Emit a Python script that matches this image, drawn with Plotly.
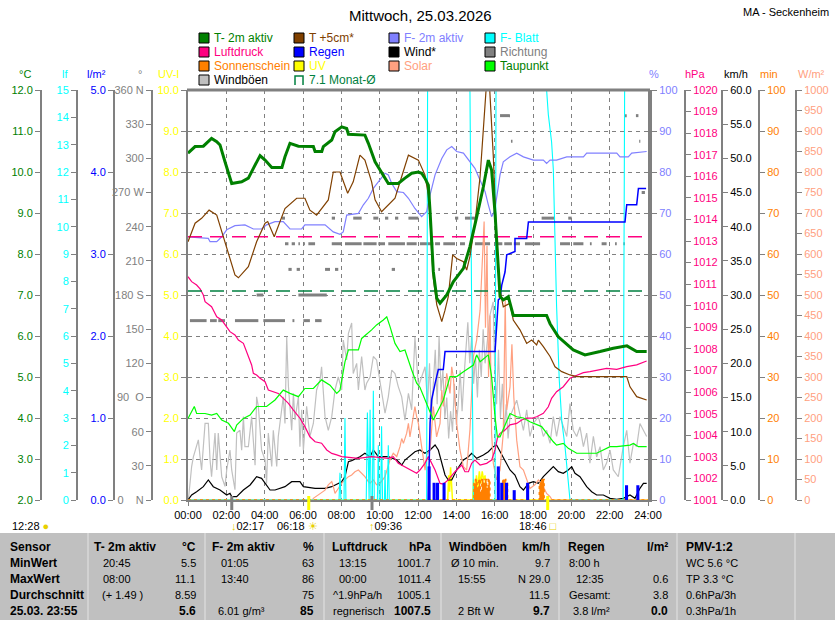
import plotly.graph_objects as go

W, H = 835, 620
FONT = "Liberation Sans, Arial, sans-serif"
GRAY = "#808080"

# plot frame, picture pixels
PL, PR, PT, PB = 188, 648, 90, 500


def fx(px):
    return px / W


def fy(py):
    return 1 - py / H


# colours of the sensors
C_T2 = "#008000"
C_T5 = "#804000"
C_F2 = "#8080FF"
C_LEAF = "#00FFFF"
C_P = "#FF0080"
C_RAIN = "#0000FF"
C_WIND = "#000000"
C_DIR = "#808080"
C_SUN = "#FF8000"
C_UV = "#FFFF00"
C_SOL = "#FFA080"
C_DEW = "#00FF00"
C_GUST = "#C0C0C0"
C_AVG = "#008040"

# ---- series: (hour of day, value) ----
temp_2m = [(0, 10.46), (0.37, 10.62), (0.8, 10.63), (1.23, 10.82), (1.5, 10.74), (1.67, 10.66), (1.93, 10.25),
           (2.28, 9.72), (2.8, 9.76), (3.15, 9.85), (3.41, 10.09), (3.76, 10.4), (4.02, 10.29), (4.37, 10.11),
           (4.9, 10.11), (5.06, 10.37), (5.32, 10.7), (5.76, 10.63), (6.54, 10.62), (6.63, 10.5), (6.98, 10.5),
           (7.06, 10.62), (7.5, 10.78), (7.67, 10.98), (8.02, 11.1), (8.28, 11.06), (8.37, 10.92), (9.23, 10.9),
           (9.41, 10.7), (9.76, 10.25), (10.45, 9.72), (10.97, 9.72), (11.32, 9.85), (11.67, 9.97), (12.02, 10.0),
           (12.19, 9.97), (12.36, 9.85), (12.54, 9.68), (12.63, 9.03), (12.71, 8.46), (12.8, 7.57), (12.98, 6.92),
           (13.15, 6.8), (13.5, 7.0), (13.84, 7.32), (14.37, 7.65), (14.71, 8.18), (15.06, 8.9), (15.41, 9.64),
           (15.67, 10.29), (15.84, 10.05), (16.02, 8.99), (16.19, 7.77), (16.28, 6.96), (16.45, 6.88),
           (16.71, 6.96), (16.97, 6.5), (18.71, 6.5), (18.89, 6.3), (19.32, 5.98), (20.1, 5.66), (20.71, 5.54),
           (21.5, 5.62), (22.19, 5.7), (22.9, 5.76), (23.41, 5.62), (23.93, 5.62)]

temp_5cm = [(0, 8.3), (0.37, 8.75), (0.71, 8.87), (1.1, 9.07), (1.5, 8.95), (1.76, 8.54), (2.02, 8.14), (2.45, 7.49),
            (2.63, 7.42), (3.15, 7.69), (3.58, 8.3), (4.02, 8.75), (4.16, 8.79), (4.5, 8.42), (5.06, 9.11),
            (5.67, 9.36), (6.1, 9.36), (6.36, 9.07), (6.71, 8.95), (7.32, 9.32), (7.58, 10.0), (7.93, 10.0),
            (8.33, 9.48), (8.62, 9.76), (8.97, 10.41), (9.23, 10.29), (9.58, 9.76), (9.76, 9.32), (10.1, 9.03),
            (10.8, 9.36), (11.15, 9.89), (11.5, 10.41), (12.02, 10.29), (12.36, 9.93), (12.54, 9.44), (12.63, 8.87),
            (12.71, 8.06), (12.8, 7.41), (12.98, 6.76), (13.24, 6.35), (13.41, 6.63), (13.58, 6.96), (13.81, 7.98),
            (14.02, 7.89), (14.37, 7.81), (14.54, 7.61), (14.71, 7.94), (14.97, 8.75), (15.24, 9.89), (15.41, 11.19),
            (15.58, 12.2), (15.72, 12.2), (15.84, 11.07), (15.93, 10.37), (16.1, 8.34), (16.28, 7.12), (16.45, 6.71),
            (16.8, 6.8), (16.97, 6.39), (17.32, 6.15), (17.67, 5.82), (17.93, 5.9), (18.19, 5.78), (18.28, 5.9),
            (18.54, 5.74), (18.89, 5.5), (19.15, 5.25), (19.5, 5.13), (19.93, 5.05), (20.28, 5.01), (22.89, 5.01),
            (23.06, 4.76), (23.41, 4.52), (23.93, 4.44)]

humidity = [(0, 64.2), (0.37, 64.0), (1.06, 63.8), (1.15, 63.0), (1.5, 63.0), (1.76, 64.2), (2.02, 65.9), (2.45, 66.9),
            (2.97, 67.1), (3.41, 66.1), (3.84, 66.1), (4.1, 67.1), (4.54, 67.9), (4.97, 67.9), (5.32, 66.1),
            (5.93, 66.1), (6.1, 67.1), (7.15, 67.1), (7.58, 65.4), (7.93, 64.8), (8.1, 65.4), (8.28, 69.5),
            (8.89, 69.9), (9.15, 72.0), (9.41, 73.6), (9.67, 76.0), (9.93, 77.6), (10.28, 79.7), (10.45, 79.3),
            (10.63, 77.2), (10.89, 75.2), (11.24, 75.0), (11.5, 73.6), (11.84, 71.1), (12.19, 69.1), (12.45, 70.3),
            (12.63, 74.4), (12.89, 79.3), (13.24, 83.3), (13.5, 85.4), (13.76, 86.2), (14.02, 85.0), (14.37, 84.6),
            (14.71, 82.5), (14.97, 80.9), (15.24, 78.0), (15.5, 75.2), (15.67, 72.0), (15.84, 69.1), (15.97, 70.3),
            (16.1, 73.6), (16.28, 79.3), (16.45, 82.5), (16.8, 83.7), (17.15, 84.6), (17.5, 83.7), (18.02, 82.9),
            (18.54, 82.9), (18.71, 82.1), (18.89, 82.9), (19.23, 82.9), (19.76, 83.7), (20.63, 83.7), (20.8, 84.6),
            (22.37, 84.6), (22.54, 83.7), (22.97, 83.7), (23.15, 84.6), (23.93, 85.0)]

leaf_wet = [(0, 0), (7.88, 0), (7.93, 1.0), (7.98, 0), (8.14, 0), (8.19, 3.0), (8.24, 0), (9.3, 0), (9.36, 3.2),
            (9.42, 0), (9.45, 0), (9.5, 3.3), (9.55, 0), (9.62, 0), (9.67, 4.0), (9.72, 0), (9.88, 0), (9.93, 2.0),
            (9.98, 0), (10.05, 0), (10.1, 2.7), (10.15, 0), (10.25, 0), (10.28, 1.1), (10.31, 0), (10.4, 0),
            (10.45, 2.0), (10.5, 0), (12.45, 0), (12.5, 15), (14.71, 15), (14.8, 7.0), (14.89, 0), (16.02, 0),
            (16.07, 15), (18.71, 15), (18.8, 14.1), (18.97, 13.1), (19.06, 12.1), (19.23, 7.1), (19.37, 4.4),
            (19.5, 2.9), (19.67, 1.95), (19.93, 0), (22.7, 0), (22.78, 15), (24, 15)]

pressure = [(0, 1011.35), (0.19, 1011.12), (0.45, 1010.96), (0.63, 1010.78), (0.8, 1010.5), (0.89, 1010.19),
            (1.23, 1009.96), (1.5, 1009.49), (1.76, 1009.34), (2.02, 1009.03), (2.19, 1008.8), (2.45, 1008.65),
            (2.63, 1008.41), (2.89, 1008.26), (3.06, 1007.87), (3.32, 1007.26), (3.41, 1006.87), (3.58, 1006.79),
            (3.76, 1006.64), (4.02, 1006.48), (4.19, 1006.1), (4.45, 1006.02), (4.71, 1005.94), (4.97, 1005.71),
            (5.24, 1005.48), (5.5, 1005.17), (5.84, 1004.79), (6.1, 1004.4), (6.36, 1003.93), (6.63, 1003.7),
            (6.97, 1003.63), (7.24, 1003.32), (7.5, 1003.16), (7.76, 1003.09), (8.02, 1003.01), (8.89, 1002.93),
            (9.58, 1003.01), (10.45, 1002.93), (10.71, 1003.01), (10.97, 1002.7), (11.32, 1002.54), (11.67, 1002.39),
            (11.93, 1002.24), (12.1, 1002.39), (12.36, 1002.7), (12.54, 1003.01), (12.71, 1002.7), (12.89, 1002.39),
            (13.15, 1001.77), (13.32, 1001.74), (13.58, 1001.93), (13.93, 1002.31), (14.28, 1002.62),
            (14.45, 1002.31), (14.63, 1002.31), (14.8, 1002.7), (14.97, 1002.85), (15.24, 1002.62), (15.58, 1002.7),
            (15.84, 1002.85), (16.02, 1003.32), (16.14, 1003.86), (16.28, 1004.09), (16.54, 1004.24),
            (16.8, 1004.48), (17.15, 1004.55), (17.41, 1004.71), (17.67, 1004.79), (17.93, 1004.79),
            (18.19, 1004.86), (18.54, 1005.02), (18.8, 1005.32), (18.97, 1005.71), (19.23, 1006.02),
            (19.58, 1006.25), (19.93, 1006.64), (20.1, 1006.71), (20.63, 1006.9), (20.97, 1006.95), (21.32, 1007.02),
            (21.84, 1007.1), (22.37, 1007.05), (22.89, 1007.18), (23.41, 1007.26), (23.93, 1007.44)]

rain_sum = [(12.5, 0), (12.54, 0), (12.63, 0.94), (12.71, 1.22), (12.89, 1.42), (13.06, 1.59), (13.32, 1.59),
            (13.41, 1.81), (16.02, 1.81), (16.1, 2.07), (16.19, 2.44), (16.28, 2.46), (16.37, 2.62), (16.54, 2.78),
            (16.63, 2.99), (17.06, 3.03), (17.06, 3.19), (17.67, 3.19), (17.76, 3.39), (22.8, 3.39), (22.89, 3.6),
            (23.41, 3.6), (23.5, 3.8), (23.9, 3.8)]

rain_t = [12.58, 12.84, 13.02, 13.36, 16.19, 16.37, 16.62, 17.02, 17.72, 22.88, 23.47]
rain_v = [0.41, 0.21, 0.21, 0.21, 0.41, 0.21, 0.21, 0.12, 0.21, 0.18, 0.18]

wind = [(0, 0), (0.19, 0.73), (0.45, 1.22), (0.8, 1.95), (1.06, 2.93), (1.32, 1.95), (1.67, 1.46), (2.02, 0.73),
        (2.19, 0.98), (2.28, 0.49), (2.54, 0.49), (2.89, 1.46), (3.24, 2.2), (3.58, 3.41), (3.84, 3.17), (4.28, 1.46),
        (4.54, 1.46), (5.06, 1.95), (5.41, 2.68), (5.84, 2.68), (6.02, 1.95), (6.63, 1.71), (7.15, 1.71), (7.5, 1.95),
        (8.02, 2.68), (8.19, 3.41), (8.37, 5.61), (8.54, 5.76), (8.97, 6.34), (9.23, 6.83), (9.5, 6.34),
        (9.67, 7.32), (9.93, 6.34), (10.45, 6.34), (10.89, 5.85), (11.15, 5.12), (11.32, 5.85), (11.84, 7.07),
        (12.1, 7.32), (12.36, 6.83), (12.63, 7.32), (12.89, 8.05), (13.06, 7.32), (13.24, 5.37), (13.41, 3.66),
        (13.58, 2.93), (13.76, 2.93), (14.02, 4.39), (14.37, 5.85), (14.63, 6.34), (14.8, 6.83), (15.06, 6.1),
        (15.41, 6.58), (15.67, 7.07), (15.93, 7.8), (16.1, 8.05), (16.28, 7.07), (16.45, 6.34), (16.63, 5.37),
        (16.8, 4.39), (17.06, 3.66), (17.32, 1.95), (17.5, 1.46), (17.76, 2.44), (18.02, 2.68), (18.28, 2.44),
        (18.54, 3.41), (18.8, 4.15), (19.06, 4.88), (19.32, 4.15), (19.58, 3.9), (19.84, 4.39), (20.02, 4.88),
        (20.19, 3.9), (20.45, 3.41), (20.8, 1.95), (21.06, 1.22), (21.32, 0.73), (21.67, 0.73), (22.02, 0.24),
        (22.37, 0.1), (22.71, 0.24), (23.06, 0.73), (23.32, 0.24), (23.58, 1.71), (23.76, 2.44), (23.93, 2.44)]

gusts = [(0.02, 0), (0.19, 4.9), (0.28, 6.3), (0.45, 7.8), (0.54, 8.8), (0.63, 6.3), (0.71, 4.4), (0.89, 11.2),
         (1.06, 11.2), (1.15, 5.9), (1.23, 3.4), (1.41, 9.8), (1.5, 4.4), (1.58, 9.8), (1.76, 3.4), (1.93, 2.0),
         (2.02, 4.4), (2.19, 7.3), (2.28, 4.4), (2.45, 1.5), (2.54, 9.8), (2.71, 10.2), (2.8, 7.3), (2.89, 12.2),
         (2.97, 7.8), (3.15, 7.8), (3.24, 9.8), (3.32, 12.2), (3.5, 5.1), (3.58, 15.1), (3.67, 13.7), (3.84, 7.3),
         (4.02, 5.9), (4.1, 2.4), (4.19, 9.8), (4.37, 4.9), (4.45, 10.2), (4.63, 4.9), (4.71, 9.3), (4.8, 11.2),
         (4.97, 15.1), (5.06, 11.2), (5.15, 23.9), (5.24, 16.6), (5.41, 10.2), (5.5, 15.6), (5.58, 11.7),
         (5.76, 15.1), (5.84, 7.8), (5.93, 13.2), (6.02, 7.3), (6.19, 13.7), (6.36, 9.3), (6.54, 11.2), (6.71, 16.1),
         (6.89, 17.6), (6.97, 19.5), (7.15, 12.2), (7.32, 10.2), (7.5, 12.2), (7.67, 16.1), (7.84, 18.0),
         (8.02, 16.1), (8.1, 23.4), (8.28, 20.5), (8.37, 24.4), (8.54, 25.9), (8.62, 18.5), (8.8, 20.0),
         (8.89, 16.1), (9.06, 21.0), (9.23, 16.1), (9.32, 17.1), (9.5, 18.0), (9.67, 21.0), (9.84, 20.5),
         (10.1, 15.6), (10.28, 12.7), (10.45, 15.1), (10.63, 19.0), (10.8, 18.5), (10.97, 16.6), (11.15, 15.1),
         (11.32, 11.7), (11.5, 15.6), (11.67, 13.2), (11.84, 23.9), (12.02, 16.6), (12.19, 18.0), (12.37, 19.5),
         (12.5, 14), (12.6, 20), (12.7, 12), (12.8, 17), (12.9, 22), (13.0, 14), (13.1, 24), (13.2, 16), (13.3, 19),
         (13.4, 12), (13.5, 15), (13.6, 9), (13.7, 13), (13.8, 10), (13.9, 17), (14.0, 11), (14.1, 14), (14.2, 19),
         (14.3, 13), (14.4, 18), (14.5, 22), (14.6, 26), (14.7, 20), (14.8, 24), (14.9, 17), (15.0, 21),
         (15.1, 15), (15.2, 22), (15.3, 18), (15.4, 25), (15.5, 20), (15.6, 23), (15.75, 27), (15.92, 29),
         (16.0, 20), (16.1, 14), (16.2, 22), (16.3, 12), (16.4, 17), (16.5, 10), (16.6, 14), (16.7, 9),
         (16.8, 12.2), (17.15, 14.6), (17.5, 10.2), (17.67, 13.2), (17.84, 9.3), (18.02, 11.2), (18.28, 12.2),
         (18.54, 9.3), (18.71, 10.2), (18.89, 8.3), (19.06, 12.2), (19.23, 9.3), (19.41, 12.2), (19.76, 9.3),
         (19.93, 14.1), (20.1, 10.2), (20.28, 9.3), (20.45, 10.7), (20.63, 7.8), (20.8, 9.8), (20.97, 5.4),
         (21.15, 9.3), (21.32, 6.3), (21.5, 7.8), (21.67, 4.4), (21.84, 5.4), (22.02, 7.3), (22.19, 4.4),
         (22.45, 3.4), (22.71, 7.8), (22.89, 10.2), (23.06, 5.4), (23.24, 8.3), (23.41, 7.8), (23.58, 11.2),
         (23.76, 10.2), (23.93, 9.3)]

dew_point = [(0, 3.99), (0.33, 4.28), (0.45, 4.11), (0.89, 4.11), (1.23, 4.07), (1.5, 4.11), (1.76, 3.95),
             (2.11, 3.87), (2.42, 3.67), (2.54, 3.83), (2.89, 3.99), (3.24, 4.07), (3.58, 4.28), (4.1, 4.28),
             (4.54, 4.44), (4.97, 4.68), (5.32, 4.6), (5.76, 4.52), (6.1, 4.72), (6.54, 4.72), (6.97, 4.93),
             (7.41, 4.8), (7.76, 4.6), (7.93, 4.68), (8.19, 5.37), (8.37, 5.66), (8.89, 5.66), (9.06, 5.94),
             (9.58, 6.15), (9.84, 6.27), (10.19, 6.39), (10.37, 6.47), (10.54, 6.23), (10.8, 5.82), (11.06, 5.62),
             (11.32, 5.66), (11.67, 5.17), (11.93, 4.85), (12.1, 4.75), (12.45, 4.36), (12.8, 3.95), (12.97, 4.11),
             (13.32, 4.44), (13.67, 5.01), (14.02, 5.01), (14.37, 5.13), (14.89, 5.29), (15.06, 5.54), (15.24, 5.37),
             (15.67, 5.54), (15.84, 5.01), (16.02, 4.03), (16.14, 3.54), (16.28, 3.54), (16.63, 3.95), (16.8, 4.11),
             (17.15, 4.03), (17.5, 4.0), (17.84, 3.91), (18.45, 3.79), (19.06, 3.42), (19.23, 3.34), (19.58, 3.38),
             (19.84, 3.26), (20.28, 3.14), (21.32, 3.14), (22.02, 3.3), (22.37, 3.3), (23.06, 3.34), (23.24, 3.38),
             (23.5, 3.3), (23.93, 3.3)]

solar = [(0, 0), (6.5, 0), (6.54, 4), (6.8, 12), (7.15, 24), (7.32, 37), (7.5, 45), (7.58, 33), (7.67, 16),
         (7.84, 28), (8.02, 41), (8.19, 49), (8.37, 57), (8.54, 61), (8.71, 69), (8.89, 73), (9.06, 65), (9.23, 57),
         (9.41, 45), (9.5, 41), (9.67, 49), (9.84, 37), (10.02, 41), (10.28, 57), (10.54, 98), (10.71, 114),
         (10.89, 106), (11.06, 130), (11.15, 150), (11.24, 138), (11.41, 163), (11.5, 187), (11.58, 154),
         (11.67, 179), (11.76, 195), (11.84, 228), (11.93, 203), (12.02, 187), (12.19, 130), (12.28, 98),
         (12.37, 73), (12.45, 110), (12.63, 122), (12.8, 228), (12.97, 154), (13.15, 187), (13.24, 268),
         (13.32, 228), (13.5, 309), (13.67, 260), (13.76, 325), (13.84, 301), (14.02, 187), (14.19, 122),
         (14.37, 81), (14.54, 73), (14.71, 171), (14.89, 350), (15.06, 390), (15.24, 463), (15.35, 560),
         (15.45, 679), (15.52, 420), (15.6, 620), (15.68, 300), (15.76, 450), (15.84, 163), (15.93, 89),
         (16.1, 49), (16.28, 73), (16.45, 163), (16.55, 490), (16.63, 220), (16.8, 276), (16.9, 380), (17.0, 250),
         (17.15, 146), (17.32, 81), (17.5, 73), (17.67, 49), (17.84, 28), (18.1, 37), (18.28, 49), (18.54, 33),
         (18.71, 16), (18.89, 8), (19.0, 0), (24, 0)]

# sunshine minutes per 5 min, step values
sunshine = [(0, 0), (14.83, 0), (14.92, 4), (15.0, 5), (15.08, 3), (15.17, 5), (15.25, 2), (15.33, 5), (15.42, 4),
            (15.5, 5), (15.58, 3), (15.67, 5), (15.75, 0), (16.42, 5), (16.5, 5), (16.58, 4), (16.67, 0),
            (18.33, 4), (18.42, 5), (18.5, 5), (18.58, 0), (24, 0)]

uv_index = [(0, 0), (13.55, 0), (13.6, 0.6), (13.65, 0.2), (13.7, 0.8), (13.75, 0.4), (13.8, 0), (14.85, 0),
            (14.9, 0.5), (14.97, 0.2), (15.05, 0.6), (15.12, 0.3), (15.2, 0.7), (15.28, 0.4), (15.35, 0.7),
            (15.42, 0.5), (15.5, 0.6), (15.55, 0), (24, 0)]

# wind direction: (from hour, to hour, degrees)
direction = [(0.1, 0.97, 157.5), (1.15, 1.5, 157.5), (1.58, 1.93, 157.5), (2.45, 3.67, 157.5), (3.93, 5.06, 157.5),
             (5.45, 5.55, 157.5), (6.02, 6.36, 157.5), (6.63, 6.97, 157.5),
             (3.58, 3.93, 180), (5.76, 7.24, 180),
             (5.24, 5.41, 202.5), (5.67, 5.84, 202.5), (7.15, 7.41, 202.5), (7.67, 7.84, 202.5),
             (10.63, 10.8, 202.5), (13.06, 13.15, 202.5),
             (5.06, 5.24, 225), (5.41, 5.58, 225), (5.76, 5.84, 225), (6.02, 6.1, 225), (6.28, 6.63, 225),
             (7.5, 8.02, 225), (8.19, 9.06, 225), (9.15, 9.84, 225), (9.93, 10.28, 225), (10.45, 11.32, 225),
             (11.41, 11.93, 225), (12.1, 12.8, 225), (12.89, 13.15, 225), (13.32, 13.93, 225), (14.19, 14.45, 225),
             (14.97, 15.76, 225), (16.02, 16.4, 225), (16.5, 16.9, 225), (17.0, 17.32, 225), (17.58, 18.37, 225),
             (19.41, 19.93, 225), (20.1, 20.63, 225), (20.97, 21.06, 225), (21.58, 21.84, 225), (22.28, 22.37, 225),
             (22.71, 22.8, 225),
             (4.9, 5.06, 247.5), (7.5, 7.67, 247.5), (8.62, 9.06, 247.5), (9.67, 9.93, 247.5), (10.28, 10.45, 247.5),
             (10.8, 10.97, 247.5), (11.5, 12.02, 247.5), (13.93, 14.1, 247.5), (14.45, 15.06, 247.5),
             (18.45, 19.15, 247.5), (19.84, 20.02, 247.5),
             (23.67, 23.84, 270), (16.85, 16.93, 315), (23.54, 23.6, 315),
             (16.28, 16.8, 337.5), (22.8, 22.89, 337.5), (23.37, 23.5, 337.5)]

month_avg_temp = 7.1
month_avg_press = 1013.2

hours = list(range(0, 25, 2))
hour_labels = ["00:00", "02:00", "04:00", "06:00", "08:00", "10:00", "12:00",
               "14:00", "16:00", "18:00", "20:00", "22:00", "24:00"]

# sun and moon events under the time axis
events = [(2.283, GRAY), (6.3, "#FFFF00"), (9.6, GRAY), (18.767, "#FFFF00")]


def xs(pairs):
    return [p[0] for p in pairs]


def ys(pairs):
    return [p[1] for p in pairs]


fig = go.Figure()


def line(pairs, axis, color, width=1.2):
    fig.add_trace(go.Scatter(x=xs(pairs), y=ys(pairs), yaxis=axis, mode="lines",
                             line=dict(color=color, width=width), hoverinfo="skip"))


# axis order = drawing order
line(uv_index, "y", C_UV, 1.5)
line(gusts, "y2", C_GUST, 1.2)
line(wind, "y2", C_WIND, 1.2)

dir_x, dir_y = [], []
for a, b, d in direction:
    dir_x += [a, b, None]
    dir_y += [d, d, None]
fig.add_trace(go.Scatter(x=dir_x, y=dir_y, yaxis="y3", mode="lines",
                         line=dict(color=C_DIR, width=3), hoverinfo="skip"))

line(solar, "y4", C_SOL, 1.2)
line(leaf_wet, "y5", C_LEAF, 1.1)
fig.add_trace(go.Scatter(x=xs(sunshine), y=ys(sunshine), yaxis="y6", mode="lines",
                         line=dict(color=C_SUN, width=1.5, shape="hv", dash="dot"),
                         fill="tozeroy", fillcolor=C_SUN, hoverinfo="skip"))
line(humidity, "y7", C_F2, 1.2)
fig.add_trace(go.Scatter(x=[0, 24], y=[month_avg_press] * 2, yaxis="y8", mode="lines",
                         line=dict(color=C_P, width=1.5, dash="14px,8px"), hoverinfo="skip"))
line(pressure, "y8", C_P, 1.2)
fig.add_trace(go.Bar(x=rain_t, y=rain_v, yaxis="y9", width=0.16, marker=dict(color=C_RAIN, line_width=0),
                     hoverinfo="skip"))
line(rain_sum, "y9", C_RAIN, 1.5)
fig.add_trace(go.Scatter(x=[0, 24], y=[month_avg_temp] * 2, yaxis="y10", mode="lines",
                         line=dict(color=C_AVG, width=1.5, dash="14px,8px"), hoverinfo="skip"))
line(dew_point, "y10", C_DEW, 1.2)
line(temp_5cm, "y10", C_T5, 1.2)
line(temp_2m, "y10", C_T2, 3)


def tick_font(color):
    return dict(family=FONT, size=11, color=color)


def free_axis(pos, rng, dtick, color, side, fmt=None, **kw):
    d = dict(overlaying="y", anchor="free", position=pos, side=side, range=rng, dtick=dtick,
             showgrid=False, zeroline=False, showline=True, linecolor=GRAY, linewidth=2,
             ticks="outside", ticklen=5, tickcolor=GRAY, tickfont=tick_font(color),
             automargin=False, fixedrange=True)
    if fmt:
        d["tickformat"] = fmt
    d.update(kw)
    return d


dir_vals = list(range(0, 361, 30))
dir_text = ["0\u00a0\u00a0\u00a0\u00a0N", "30", "60", "90\u00a0\u00a0O", "120", "150", "180 S",
            "210", "240", "270 W", "300", "330", "360 N"]

fig.update_layout(
    width=W, height=H, margin=dict(l=0, r=0, t=0, b=0),
    paper_bgcolor="white", plot_bgcolor="white", showlegend=False,
    font=dict(family=FONT, size=11, color="black"),
    xaxis=dict(domain=[fx(PL), fx(PR)], range=[0, 24], tickvals=hours, ticktext=hour_labels,
               showgrid=True, gridcolor=GRAY, griddash="4px,4px", gridwidth=1,
               showline=True, linecolor=GRAY, linewidth=2, ticks="outside", ticklen=4, tickcolor=GRAY,
               zeroline=False, automargin=False, fixedrange=True, tickfont=tick_font("black")),
    yaxis=dict(domain=[fy(PB), fy(PT)], range=[0, 10], dtick=1, tickformat=".1f",
               showgrid=True, gridcolor=GRAY, griddash="4px,4px", gridwidth=1,
               showline=True, linecolor=GRAY, linewidth=2, ticks="outside", ticklen=5, tickcolor=GRAY,
               zeroline=False, automargin=False, fixedrange=True, tickfont=tick_font(C_UV)),
    yaxis2=free_axis(fx(722), [0, 60], 5, "black", "right", ".1f"),
    yaxis3=free_axis(fx(152), [0, 360], 30, GRAY, "left", tickvals=dir_vals, ticktext=dir_text),
    yaxis4=free_axis(fx(796), [0, 1000], 50, C_SOL, "right"),
    yaxis5=free_axis(fx(77), [0, 15], 1, C_LEAF, "left"),
    yaxis6=free_axis(fx(759), [0, 100], 10, C_SUN, "right"),
    yaxis7=dict(overlaying="y", anchor="x", side="right", range=[0, 100], dtick=10,
                showgrid=False, zeroline=False, showline=True, linecolor=GRAY, linewidth=4,
                ticks="outside", ticklen=5, tickcolor=GRAY, tickfont=tick_font(C_F2),
                automargin=False, fixedrange=True),
    yaxis8=free_axis(fx(685), [1001, 1020], 1, C_P, "right"),
    yaxis9=free_axis(fx(114), [0, 5], 1, C_RAIN, "left", ".1f"),
    yaxis10=free_axis(fx(41), [2, 12], 1, C_T2, "left", ".1f"),
)

shapes = []
ann = []


def text(px, py, s, color="black", size=11, anchor="left", bold=False):
    if bold:
        s = "<b>" + s + "</b>"
    ann.append(dict(x=fx(px), y=fy(py), xref="paper", yref="paper", text=s, showarrow=False,
                    xanchor=anchor, yanchor="middle", font=dict(family=FONT, size=size, color=color)))


# top frame line
shapes.append(dict(type="line", xref="paper", yref="paper", x0=fx(PL - 1), x1=fx(PR + 2), y0=fy(PT), y1=fy(PT),
                   line=dict(color=GRAY, width=3)))

# title
text(420, 16, "Mittwoch, 25.03.2026", size=15, anchor="center")
text(831, 12, "MA - Seckenheim", size=11, anchor="right")

# legend
legend_items = [("T- 2m aktiv", C_T2, C_T2), ("T +5cm*", C_T5, C_T5), ("F- 2m aktiv", C_F2, C_F2),
                ("F- Blatt", C_LEAF, C_LEAF), ("Luftdruck", C_P, C_P), ("Regen", C_RAIN, C_RAIN),
                ("Wind*", C_WIND, "black"), ("Richtung", C_DIR, C_DIR), ("Sonnenschein", C_SUN, C_SUN),
                ("UV", C_UV, C_UV), ("Solar", C_SOL, C_SOL), ("Taupunkt", C_DEW, C_T2),
                ("Windböen", C_GUST, "black"), ("7.1 Monat-Ø", None, C_AVG)]
leg_x = [199, 294, 389, 485]
leg_y = [38, 52, 66, 80]
for i, (name, box, tc) in enumerate(legend_items):
    cx, cy = leg_x[i % 4], leg_y[i // 4]
    if box:
        shapes.append(dict(type="rect", xref="paper", yref="paper", x0=fx(cx), x1=fx(cx + 10),
                           y0=fy(cy + 5), y1=fy(cy - 5), fillcolor=box, line=dict(color="black", width=1)))
    else:
        path = "M %.4f %.4f L %.4f %.4f L %.4f %.4f L %.4f %.4f" % (
            fx(cx + 1), fy(cy + 5), fx(cx + 1), fy(cy - 4), fx(cx + 9), fy(cy - 4), fx(cx + 9), fy(cy + 5))
        shapes.append(dict(type="path", xref="paper", yref="paper", path=path, line=dict(color=C_AVG, width=1.5)))
    text(cx + 13, cy, name, tc, size=12)

# axis captions
for px, s, c in [(25, "°C", C_T2), (65, "lf", C_LEAF), (96, "l/m²", C_RAIN), (140, "°", GRAY),
                 (168, "UV-I", C_UV), (654, "%", C_F2), (695, "hPa", C_P), (736, "km/h", "black"),
                 (769, "min", C_SUN), (811, "W/m²", C_SOL)]:
    text(px, 74, s, c, size=11, anchor="center")

# sun / moon marks under the time axis
for t, c in events:
    shapes.append(dict(type="line", xref="x", yref="paper", x0=t, x1=t, y0=fy(496), y1=fy(510),
                       line=dict(color=c, width=3)))
text(10, 526, "12:28 <span style='color:#E8D000'>●</span>")
text(229, 526, "<span style='color:#E8D000'>↓</span>02:17")
text(275, 526, "06:18 <span style='color:#E8D000'>☀</span>")
text(367, 526, "<span style='color:#E8D000'>↑</span>09:36")
text(517, 526, "18:46 <span style='color:#E8D000'>□</span>")

# table
shapes.append(dict(type="rect", xref="paper", yref="paper", x0=0, x1=1, y0=0, y1=fy(533),
                   fillcolor="#C0C0C0", line=dict(width=0), layer="below"))
for sx in [88, 205, 324, 441, 559, 677, 795]:
    shapes.append(dict(type="line", xref="paper", yref="paper", x0=fx(sx), x1=fx(sx), y0=0, y1=fy(533),
                       line=dict(color="#E4E4E4", width=1)))

rows_y = [547, 563, 579, 595, 611]
sensor_col = ["Sensor", "MinWert", "MaxWert", "Durchschnitt", "25.03. 23:55"]
blocks = [
    (92, 198, ("T- 2m aktiv", "°C"), [(101, "20:45", "5.5"), (101, "08:00", "11.1"), (100, "(+ 1.49 )", "8.59"),
                                      (101, "", "5.6")]),
    (210, 316, ("F- 2m aktiv", "%"), [(219, "01:05", "63"), (219, "13:40", "86"), (219, "", "75"),
                                      (216, "6.01 g/m³", "85")]),
    (330, 433, ("Luftdruck", "hPa"), [(337, "13:15", "1001.7"), (337, "00:00", "1011.4"),
                                      (331, "^1.9hPa/h", "1005.1"), (331, "regnerisch", "1007.5")]),
    (447, 552, ("Windböen", "km/h"), [(449, "Ø 10 min.", "9.7"), (456, "15:55", "N 29.0"), (456, "", "11.5"),
                                      (456, "2 Bft W", "9.7")]),
    (566, 670, ("Regen", "l/m²"), [(567, "8:00 h", ""), (574, "12:35", "0.6"), (567, "Gesamt:", "3.8"),
                                   (571, "3.8 l/m²", "0.0")]),
]
pmv_col = ["PMV-1:2", "WC 5.6 °C", "TP 3.3 °C", "0.6hPa/3h", "0.3hPa/1h"]

for s, ry in zip(sensor_col, rows_y):
    text(8, ry, s, size=12, bold=True)
for xl, xr, (head, unit), rows in blocks:
    text(xl, rows_y[0], head, size=12, bold=True)
    text(xr, rows_y[0], unit, size=12, bold=True, anchor="right")
    for k, (xsub, sub, val) in enumerate(rows):
        ry = rows_y[k + 1]
        last = k == 3
        if sub:
            text(xsub, ry, sub, size=11)
        if val:
            text(xr, ry, val, size=12 if last else 11, bold=last, anchor="right")
for k, (s, ry) in enumerate(zip(pmv_col, rows_y)):
    text(684, ry, s, size=12 if k == 0 else 11, bold=(k == 0))

fig.update_layout(shapes=shapes, annotations=ann)

fig.write_html("out.html", config={"displayModeBar": False},
               post_script="document.body.style.margin='0';")
